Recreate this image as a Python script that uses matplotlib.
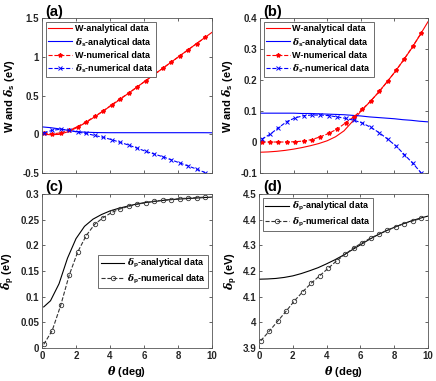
import matplotlib
matplotlib.use('Agg')
import matplotlib.pyplot as plt
import numpy as np
from matplotlib.ticker import FuncFormatter

plt.rcParams['font.family'] = ['Liberation Sans', 'DejaVu Sans']
plt.rcParams['font.weight'] = 'bold'
plt.rcParams['mathtext.fontset'] = 'custom'
plt.rcParams['mathtext.it'] = 'DejaVu Serif:italic'
plt.rcParams['mathtext.rm'] = 'Liberation Sans'
plt.rcParams['mathtext.bf'] = 'Liberation Sans:bold'

# numerical samples (theta = 0.1, 0.6, ..., 9.6)
theta_num = [0.1, 0.6, 1.1, 1.6, 2.1, 2.6, 3.1, 3.6, 4.1, 4.6,
             5.1, 5.6, 6.1, 6.6, 7.1, 7.6, 8.1, 8.6, 9.1, 9.6]
# analytical samples
theta_ana = [0.0, 0.5, 1.0, 1.5, 2.0, 2.5, 3.0, 3.5, 4.0, 4.5, 5.0,
             5.5, 6.0, 6.5, 7.0, 7.5, 8.0, 8.5, 9.0, 9.5, 10.0]

# (a)
W_ana_a = [0.0, -0.006, -0.002, 0.03, 0.08, 0.14, 0.21, 0.285, 0.36, 0.435, 0.515,
           0.595, 0.675, 0.755, 0.835, 0.915, 0.995, 1.075, 1.155, 1.235, 1.315]
ds_ana_a = [0.095, 0.085, 0.07, 0.052, 0.035, 0.027, 0.023, 0.021, 0.02, 0.02, 0.02,
            0.02, 0.02, 0.02, 0.02, 0.02, 0.02, 0.02, 0.02, 0.02, 0.019]
W_num_a = [0.018, 0.005, 0.018, 0.05, 0.10, 0.16, 0.23, 0.30, 0.38, 0.46,
           0.53, 0.61, 0.69, 0.77, 0.85, 0.93, 1.01, 1.09, 1.17, 1.25]
ds_num_a = [0.018, 0.05, 0.065, 0.05, 0.027, 0.01, -0.016, -0.04, -0.07, -0.105,
            -0.14, -0.18, -0.22, -0.255, -0.29, -0.33, -0.37, -0.41, -0.45, -0.495]

# (b)
W_ana_b = [-0.033, -0.032, -0.03, -0.027, -0.023, -0.018, -0.012, -0.005, 0.004, 0.017, 0.036,
           0.066, 0.099, 0.127, 0.157, 0.19, 0.224, 0.261, 0.3, 0.343, 0.388]
ds_ana_b = [0.093, 0.093, 0.093, 0.093, 0.093, 0.092, 0.092, 0.091, 0.09, 0.089, 0.088,
            0.086, 0.084, 0.081, 0.079, 0.077, 0.075, 0.072, 0.07, 0.067, 0.065]
W_num_b = [0.0, 0.0, 0.0, 0.0, 0.001, 0.003, 0.008, 0.017, 0.028, 0.042,
           0.062, 0.082, 0.106, 0.133, 0.163, 0.196, 0.231, 0.269, 0.309, 0.352]
ds_num_b = [0.009, 0.025, 0.046, 0.066, 0.078, 0.085, 0.087, 0.087, 0.085, 0.081,
            0.076, 0.07, 0.061, 0.047, 0.03, 0.009, -0.013, -0.041, -0.069, -0.1]

# (c)
theta_ana_c = [0.1, 0.5, 1.0, 1.5, 2.0, 2.5, 3.0, 3.5, 4.0, 4.5, 5.0,
               5.5, 6.0, 6.5, 7.0, 7.5, 8.0, 8.5, 9.0, 9.5, 10.0]
dp_ana_c = [0.08, 0.092, 0.125, 0.175, 0.213, 0.237, 0.251, 0.26, 0.267, 0.272, 0.276,
            0.28, 0.283, 0.285, 0.287, 0.289, 0.29, 0.291, 0.292, 0.293, 0.294]
dp_num_c = [0.007, 0.034, 0.083, 0.142, 0.187, 0.219, 0.241, 0.254, 0.264, 0.271,
            0.276, 0.28, 0.283, 0.286, 0.288, 0.289, 0.291, 0.292, 0.293, 0.294]

# (d)
dp_ana_d = [4.168, 4.169, 4.171, 4.175, 4.181, 4.19, 4.201, 4.213, 4.228, 4.244, 4.262,
            4.282, 4.302, 4.322, 4.34, 4.356, 4.37, 4.383, 4.395, 4.405, 4.414]
dp_num_d = [3.928, 3.965, 4.004, 4.043, 4.084, 4.12, 4.153, 4.182, 4.211, 4.24,
            4.265, 4.29, 4.31, 4.328, 4.344, 4.359, 4.373, 4.385, 4.395, 4.405]

fig = plt.figure(figsize=(4.36, 3.81), dpi=100)
W, H = 436, 381
def box(l, t, r, b):
    return [l / W, 1 - b / H, (r - l) / W, (b - t) / H]

ax_a = fig.add_axes(box(42, 18, 212, 173))
ax_b = fig.add_axes(box(260, 18, 428, 173))
ax_c = fig.add_axes(box(42, 194, 212, 348))
ax_d = fig.add_axes(box(259, 194, 428, 348))

fmt = FuncFormatter(lambda v, p: '%g' % round(v, 4))
edge = '#262626'
for ax in [ax_a, ax_b, ax_c, ax_d]:
    ax.set_xlim(0, 10)
    ax.set_xticks([0, 2, 4, 6, 8, 10])
    ax.tick_params(direction='in', top=True, right=True, length=2.5, width=0.5,
                   labelsize=7, colors=edge, pad=2)
    ax.yaxis.set_major_formatter(fmt)
    for s in ax.spines.values():
        s.set_linewidth(0.6)
        s.set_color('#555555')

ylab_s = r'W and $\mathit{\delta}_{\mathbf{s}}$ (eV)'
ylab_p = r'$\mathit{\delta}_{\mathbf{p}}$ (eV)'
xlab = r'$\mathit{\theta}$ (deg)'
lab_s_ana = r'$\mathit{\delta}_{\mathbf{s}}$-analytical data'
lab_s_num = r'$\mathit{\delta}_{\mathbf{s}}$-numerical data'
lab_p_ana = r'$\mathit{\delta}_{\mathbf{p}}$-analytical data'
lab_p_num = r'$\mathit{\delta}_{\mathbf{p}}$-numerical data'

# (a)
ax_a.plot(theta_ana, W_ana_a, color='r', lw=0.8, label='W-analytical data')
ax_a.plot(theta_ana, ds_ana_a, color='b', lw=0.8, label=lab_s_ana)
ax_a.plot(theta_num, W_num_a, 'r--*', lw=0.8, ms=3, label='W-numerical data')
ax_a.plot(theta_num, ds_num_a, 'b--x', lw=0.8, ms=2.5, mew=0.7, label=lab_s_num)
ax_a.set_ylim(-0.5, 1.5)
ax_a.set_yticks([-0.5, 0, 0.5, 1, 1.5])
ax_a.set_xticklabels([])
ax_a.set_ylabel(ylab_s, fontsize=8, fontweight='bold', labelpad=4)

# (b)
ax_b.plot(theta_ana, W_ana_b, color='r', lw=0.8, label='W-analytical data')
ax_b.plot(theta_ana, ds_ana_b, color='b', lw=0.8, label=lab_s_ana)
ax_b.plot(theta_num, W_num_b, 'r--*', lw=0.8, ms=3, label='W-numerical data')
ax_b.plot(theta_num, ds_num_b, 'b--x', lw=0.8, ms=2.5, mew=0.7, label=lab_s_num)
ax_b.set_ylim(-0.1, 0.4)
ax_b.set_yticks([-0.1, 0, 0.1, 0.2, 0.3, 0.4])
ax_b.set_xticklabels([])
ax_b.set_ylabel(ylab_s, fontsize=8, fontweight='bold', labelpad=4)

# (c)
ax_c.plot(theta_ana_c, dp_ana_c, color='k', lw=0.8, label=lab_p_ana)
ax_c.plot(theta_num, dp_num_c, '--o', color='#333333', lw=0.8, ms=3.2, mfc='none', mew=0.6,
          label=lab_p_num)
ax_c.set_ylim(0, 0.3)
ax_c.set_yticks([0, 0.05, 0.1, 0.15, 0.2, 0.25, 0.3])
ax_c.set_ylabel(ylab_p, fontsize=8, fontweight='bold', labelpad=2)
ax_c.set_xlabel(xlab, fontsize=8, fontweight='bold', labelpad=2)

# (d)
ax_d.plot(theta_ana, dp_ana_d, color='k', lw=0.8, label=lab_p_ana)
ax_d.plot(theta_num, dp_num_d, '--o', color='#333333', lw=0.8, ms=3.2, mfc='none', mew=0.6,
          label=lab_p_num)
ax_d.set_ylim(3.9, 4.5)
ax_d.set_yticks([3.9, 4.0, 4.1, 4.2, 4.3, 4.4, 4.5])
ax_d.set_ylabel(ylab_p, fontsize=8, fontweight='bold', labelpad=2)
ax_d.set_xlabel(xlab, fontsize=8, fontweight='bold', labelpad=2)

leg_kw = dict(fancybox=False, edgecolor='#555555', framealpha=1,
              handlelength=2.6, borderpad=0.3, labelspacing=0.25, handletextpad=0.3,
              borderaxespad=0.4, prop={'weight': 'bold', 'size': 6.5})
for ax in [ax_a, ax_b]:
    lg = ax.legend(loc='upper left', **leg_kw)
    lg.get_frame().set_linewidth(0.6)
lg = ax_c.legend(loc='upper right', bbox_to_anchor=(1.0, 0.63), **leg_kw)
lg.get_frame().set_linewidth(0.6)
lg = ax_d.legend(loc='upper left', **leg_kw)
lg.get_frame().set_linewidth(0.6)

for lbl, x, y in [('(a)', 45, 12), ('(b)', 263, 12), ('(c)', 45, 187), ('(d)', 263, 187)]:
    fig.text(x / W, 1 - y / H, lbl, fontsize=10.5, fontweight='bold', va='center', ha='left')

fig.savefig('out.png', dpi=100)
